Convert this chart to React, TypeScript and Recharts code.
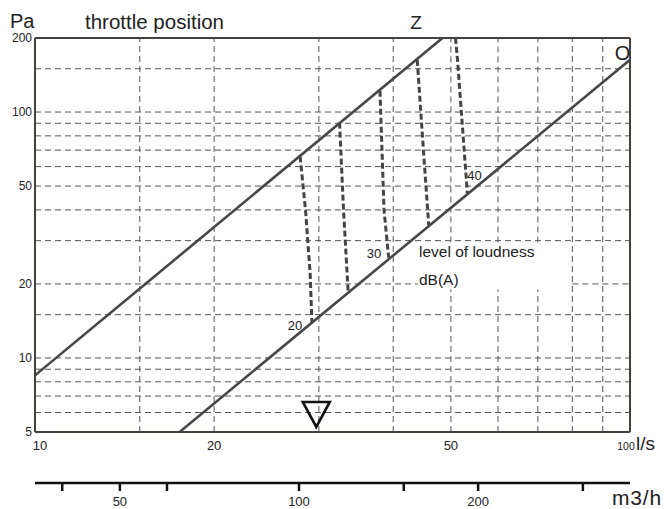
import React from 'react';
import { ComposedChart, Line, Scatter, XAxis, YAxis, ReferenceLine } from 'recharts';

// ---- data ----
const flowTicks = [10, 20, 50, 100]; // l/s
const pressureTicks = [5, 10, 20, 50, 100, 200]; // Pa
const m3hTicks = [40, 50, 60, 100, 150, 200, 300];
const m3hLabels = [50, 100, 200];
const m3hRange = [
  { m: 36, p: 5 },
  { m: 360, p: 5 },
];
const gridFlow = [15, 20, 30, 40, 50, 60, 70, 80, 90];
const gridPressure = [6, 7, 8, 9, 10, 15, 20, 30, 40, 50, 60, 70, 80, 90, 100, 150];

// throttle position lines
const throttleZ = [
  { q: 10, p: 8.5 },
  { q: 48.4, p: 200 },
];
const throttleO = [
  { q: 17.5, p: 5 },
  { q: 100, p: 163 },
];

// level of loudness curves dB(A)
const loud20 = [
  { q: 27.9, p: 66 },
  { q: 28.5, p: 39.4 },
  { q: 29.0, p: 22.1 },
  { q: 29.2, p: 14.0 },
];
const loud25 = [
  { q: 32.5, p: 90.5 },
  { q: 33.0, p: 40 },
  { q: 33.6, p: 18.5 },
];
const loud30 = [
  { q: 38.0, p: 122 },
  { q: 38.6, p: 40 },
  { q: 39.3, p: 25.6 },
];
const loud35 = [
  { q: 43.9, p: 163 },
  { q: 44.8, p: 79 },
  { q: 45.9, p: 34.5 },
];
const loud40 = [
  { q: 50.9, p: 200 },
  { q: 51.3, p: 162.7 },
  { q: 53.3, p: 46.5 },
];
const loudCurves = [loud20, loud25, loud30, loud35, loud40];

// nominal point marker
const nominal = [{ q: 29.7, p: 5.92 }];

// gap in the grid behind the "level of loudness" note
const noteGap = { qFrom: 44, qTo: 80, pFrom: 19, pTo: 29.5 };

const FONT = '"Liberation Sans", Arial, Helvetica, sans-serif';
const GRID = '#555555';
const FRAME = '#46413d';
const LINE = '#474747';

const FlowTick = (props: any) => {
  const { x, y, payload } = props;
  const v = payload.value;
  const dx = v === 10 ? 5 : v === 100 ? -4 : 0;
  return (
    <text x={x + dx} y={y + 9} textAnchor="middle" fontSize={v === 100 ? 10.5 : 13} fill="#222" fontFamily={FONT}>
      {v}
    </text>
  );
};

const M3hTick = (props: any) => {
  const { x, y, payload } = props;
  if (!m3hLabels.includes(payload.value)) return <g />;
  return (
    <text x={x} y={y + 11} textAnchor="middle" fontSize={13} fill="#222" fontFamily={FONT}>
      {payload.value}
    </text>
  );
};

const Triangle = (props: any) => {
  const { cx, cy } = props;
  if (cx == null || cy == null) return <g />;
  const pts = `${cx - 13.5},${cy - 12} ${cx + 13.5},${cy - 12} ${cx},${cy + 13}`;
  return <polygon points={pts} fill="none" stroke="#111" strokeWidth={2.6} strokeLinejoin="miter" />;
};

function gridLines() {
  const out: any[] = [];
  const common = { stroke: GRID, strokeDasharray: '6 4', strokeWidth: 1 };
  gridFlow.forEach((q) => {
    if (q > noteGap.qFrom && q < noteGap.qTo) {
      out.push(<ReferenceLine key={`vx${q}a`} segment={[{ x: q, y: 5 }, { x: q, y: noteGap.pFrom }]} {...common} />);
      out.push(<ReferenceLine key={`vx${q}b`} segment={[{ x: q, y: noteGap.pTo }, { x: q, y: 200 }]} {...common} />);
    } else {
      out.push(<ReferenceLine key={`vx${q}`} x={q} {...common} />);
    }
  });
  gridPressure.forEach((p) => {
    if (p > noteGap.pFrom && p < noteGap.pTo) {
      out.push(<ReferenceLine key={`hy${p}a`} segment={[{ x: 10, y: p }, { x: noteGap.qFrom, y: p }]} {...common} />);
      out.push(<ReferenceLine key={`hy${p}b`} segment={[{ x: noteGap.qTo, y: p }, { x: 100, y: p }]} {...common} />);
    } else {
      out.push(<ReferenceLine key={`hy${p}`} y={p} {...common} />);
    }
  });
  return out;
}

export default function App() {
  return (
    <div style={{ width: 664, height: 509, padding: 8, boxSizing: 'border-box', overflow: 'hidden' }}>
      <style>{`html,body{margin:0;padding:0;overflow:hidden}`}</style>
      <div style={{ position: 'relative', width: 656, height: 501, fontFamily: FONT }}>
        <ComposedChart width={656} height={501} margin={{ top: 30, right: 34, left: 0, bottom: 0 }}>
          <XAxis
            xAxisId={0}
            dataKey="q"
            type="number"
            scale="log"
            domain={[10, 100]}
            allowDataOverflow
            ticks={flowTicks}
            tick={<FlowTick />}
            tickLine={false}
            tickSize={0}
            tickMargin={9}
            height={51}
            axisLine={{ stroke: FRAME, strokeWidth: 2 }}
            interval={0}
          />
          <XAxis
            xAxisId="m3h"
            dataKey="m"
            type="number"
            scale="log"
            domain={[36, 360]}
            allowDataOverflow
            ticks={m3hTicks}
            tick={<M3hTick />}
            tickLine={{ stroke: '#111', strokeWidth: 2.5 }}
            tickSize={8}
            tickMargin={4}
            height={26}
            axisLine={{ stroke: '#111', strokeWidth: 2.5 }}
            interval={0}
          />
          <YAxis
            dataKey="p"
            type="number"
            scale="log"
            domain={[5, 200]}
            allowDataOverflow
            ticks={pressureTicks}
            tick={{ fontSize: 12, fill: '#222', fontFamily: FONT }}
            tickLine={false}
            tickSize={0}
            tickMargin={3}
            width={27}
            axisLine={{ stroke: FRAME, strokeWidth: 2 }}
            interval={0}
          />
          {gridLines()}
          <ReferenceLine y={200} stroke={FRAME} strokeWidth={2} />
          <ReferenceLine x={100} stroke={FRAME} strokeWidth={2} />
          <Line
            xAxisId="m3h"
            data={m3hRange}
            dataKey="p"
            stroke="none"
            strokeWidth={0}
            dot={false}
            activeDot={false}
            legendType="none"
            isAnimationActive={false}
          />
          {loudCurves.map((c, i) => (
            <Line
              key={`loud${i}`}
              data={c}
              dataKey="p"
              type="linear"
              stroke="#444444"
              strokeWidth={3}
              strokeDasharray="6 3"
              dot={false}
              activeDot={false}
              isAnimationActive={false}
            />
          ))}
          <Line data={throttleZ} dataKey="p" type="linear" stroke={LINE} strokeWidth={2.6} dot={false} activeDot={false} isAnimationActive={false} />
          <Line data={throttleO} dataKey="p" type="linear" stroke={LINE} strokeWidth={2.6} dot={false} activeDot={false} isAnimationActive={false} />
          <Scatter data={nominal} dataKey="p" shape={<Triangle />} isAnimationActive={false} />
        </ComposedChart>
        <svg width={656} height={501} style={{ position: 'absolute', left: 0, top: 0, pointerEvents: 'none', overflow: 'visible' }}>
          <g fontFamily={FONT} fill="#222">
            <text x={2} y={20} fontSize={20}>Pa</text>
            <text x={77} y={20.5} fontSize={20.5}>throttle position</text>
            <text x={408} y={21} fontSize={19} textAnchor="middle">Z</text>
            <text x={614.5} y={52} fontSize={20} textAnchor="middle">O</text>
            <text x={628} y={442} fontSize={19}>l/s</text>
            <text x={604} y={497} fontSize={21} letterSpacing={0.8}>m3/h</text>
            <text x={411} y={249} fontSize={15.5}>level of loudness</text>
            <text x={411} y={277} fontSize={15.5}>dB(A)</text>
            <text x={287} y={322} fontSize={13} textAnchor="middle">20</text>
            <text x={366} y={250} fontSize={13} textAnchor="middle">30</text>
            <text x={466.5} y={172} fontSize={13} textAnchor="middle">40</text>
          </g>
        </svg>
      </div>
    </div>
  );
}
